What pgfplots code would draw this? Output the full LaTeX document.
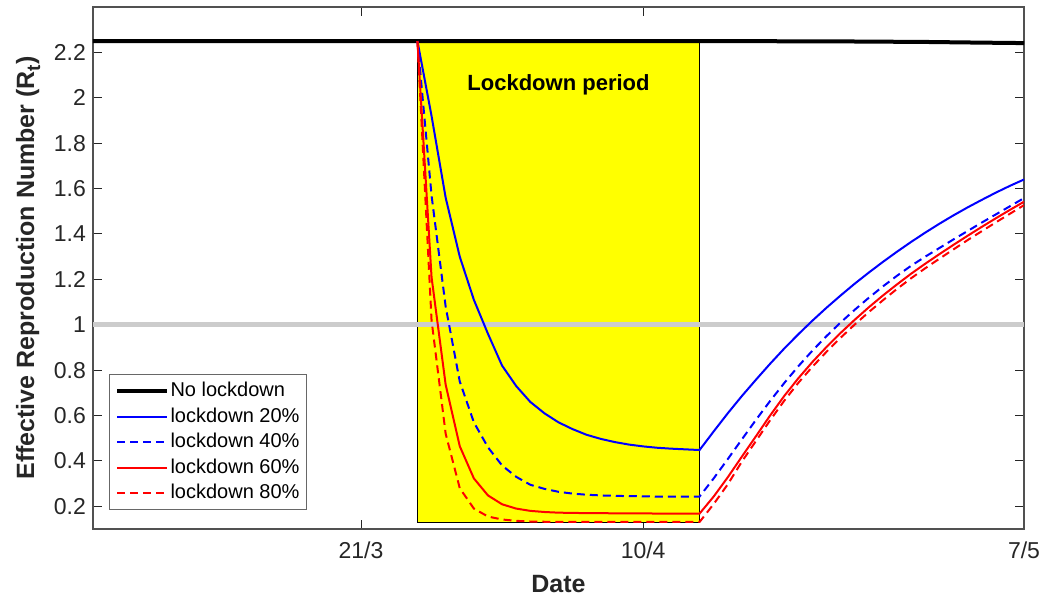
\documentclass[border=0pt]{standalone}
\usepackage{fontspec}
\setmainfont{Liberation Sans}
\usepackage{pgfplots}
\pgfplotsset{compat=1.18}
\definecolor{axgray}{HTML}{262626}
\definecolor{refgray}{HTML}{CCCCCC}
\definecolor{myellow}{HTML}{FFFF00}
\definecolor{mblue}{HTML}{0000FF}
\definecolor{mred}{HTML}{FF0000}
\begin{document}
\begin{tikzpicture}
\begin{axis}[
  scale only axis, width=465.5pt, height=261pt,
  xmin=1, xmax=67, ymin=0.1, ymax=2.4,
  xtick={20,40,67}, xticklabels={21/3,10/4,7/5},
  ytick={0.2,0.4,0.6,0.8,1,1.2,1.4,1.6,1.8,2,2.2},
  tick align=inside, xtick pos=both, ytick pos=both,
  major tick length=4.5pt,
  tick style={axgray,line width=0.5pt},
  axis line style={axgray!80,line width=0.6pt},
  /pgf/number format/assume math mode=true,
  tick label style={font=\fontsize{11.5}{13}\selectfont,text=axgray},
  xticklabel style={yshift=-3pt},
  label style={font=\fontsize{12.5}{14}\selectfont\bfseries,text=axgray},
  xlabel={Date},
  xlabel style={yshift=-1.5pt},
  ylabel={Effective Reproduction Number (R\raisebox{-0.45ex}{\fontsize{9.5}{10}\selectfont t})},
  legend image code/.code={\draw[#1] (0pt,0pt) -- (25pt,0pt);},
  legend style={at={(0.017,0.036)},anchor=south west,draw=axgray!70,
    line width=0.5pt,font=\fontsize{10}{12}\selectfont,
    nodes={text height=8.5pt,text depth=3pt,inner sep=0.6pt},
    inner xsep=3pt,inner ysep=2pt},
  legend cell align=left,
]
% lockdown window
\addplot[fill=myellow,draw=black,line width=0.5pt,forget plot]
  coordinates {(24,0.13) (44,0.13) (44,2.25) (24,2.25) (24,0.13)};
% Rt = 1
\addplot[refgray,line width=2.5pt,forget plot]
  coordinates {(1,1) (67,1)};

\addplot[black,line width=2pt] coordinates {
  (1,2.25) (45,2.25) (50,2.249) (55,2.248) (60,2.246) (64,2.243) (67,2.241)};

\addplot[mblue,line width=1pt] coordinates {
  (24,2.25) (25,1.92) (26,1.56) (27,1.30) (28,1.11) (29,0.96) (30,0.82)
  (31,0.73) (32,0.66) (33,0.61) (34,0.57) (35,0.54) (36,0.515) (37,0.497)
  (38,0.483) (39,0.472) (40,0.464) (41,0.458) (42,0.454) (43,0.451) (44,0.448)
  (45,0.530) (46,0.610) (47,0.686) (48,0.758) (49,0.828) (50,0.895) (51,0.958)
  (52,1.018) (53,1.075) (54,1.129) (55,1.181) (56,1.230) (57,1.277) (58,1.322)
  (59,1.365) (60,1.406) (61,1.445) (62,1.482) (63,1.517) (64,1.550) (65,1.582)
  (66,1.612) (67,1.640)};

\addplot[mblue,line width=1pt,dash pattern=on 4pt off 2.5pt] coordinates {
  (24,2.25) (25,1.57) (26,1.08) (27,0.75) (28,0.57) (29,0.46) (30,0.38)
  (31,0.33) (32,0.295) (33,0.277) (34,0.264) (35,0.256) (36,0.251) (37,0.248)
  (38,0.246) (39,0.245) (40,0.244) (41,0.243) (42,0.243) (43,0.243) (44,0.243)
  (45,0.323) (46,0.408) (47,0.495) (48,0.581) (49,0.664) (50,0.743) (51,0.817)
  (52,0.886) (53,0.950) (54,1.010) (55,1.066) (56,1.119) (57,1.169) (58,1.216)
  (59,1.260) (60,1.300) (61,1.338) (62,1.376) (63,1.413) (64,1.450) (65,1.486)
  (66,1.522) (67,1.558)};

\addplot[mred,line width=1pt] coordinates {
  (24,2.25) (25,1.21) (26,0.736) (27,0.465) (28,0.323) (29,0.248) (30,0.209)
  (31,0.19) (32,0.18) (33,0.175) (34,0.172) (35,0.171) (36,0.170) (37,0.170)
  (38,0.169) (39,0.169) (40,0.169) (41,0.168) (42,0.168) (43,0.168) (44,0.168)
  (45,0.243) (46,0.328) (47,0.419) (48,0.509) (49,0.600) (50,0.686) (51,0.764)
  (52,0.836) (53,0.902) (54,0.964) (55,1.022) (56,1.077) (57,1.129) (58,1.178)
  (59,1.225) (60,1.269) (61,1.311) (62,1.352) (63,1.392) (64,1.431) (65,1.469)
  (66,1.506) (67,1.542)};

\addplot[mred,line width=1pt,dash pattern=on 4pt off 2.5pt] coordinates {
  (24,2.25) (25,1.02) (26,0.52) (27,0.28) (28,0.19) (29,0.155) (30,0.142)
  (31,0.136) (32,0.133) (33,0.132) (34,0.131) (35,0.131) (36,0.131) (37,0.131)
  (38,0.131) (39,0.131) (40,0.131) (41,0.131) (42,0.131) (43,0.131) (44,0.131)
  (45,0.210) (46,0.297) (47,0.397) (48,0.488) (49,0.579) (50,0.665) (51,0.744)
  (52,0.815) (53,0.881) (54,0.943) (55,1.001) (56,1.056) (57,1.108) (58,1.158)
  (59,1.205) (60,1.249) (61,1.291) (62,1.332) (63,1.373) (64,1.412) (65,1.451)
  (66,1.489) (67,1.527)};

\legend{No lockdown,lockdown 20\%,lockdown 40\%,lockdown 60\%,lockdown 80\%}

\node[font=\fontsize{11}{13}\selectfont\bfseries] at (axis cs:34,2.055) {Lockdown period};
\end{axis}
\pgfresetboundingbox
\path ([shift={(-46.5pt,-33.5pt)}]current axis.south west)
  rectangle ([shift={(10.5pt,3.5pt)}]current axis.north east);
\end{tikzpicture}
\end{document}
